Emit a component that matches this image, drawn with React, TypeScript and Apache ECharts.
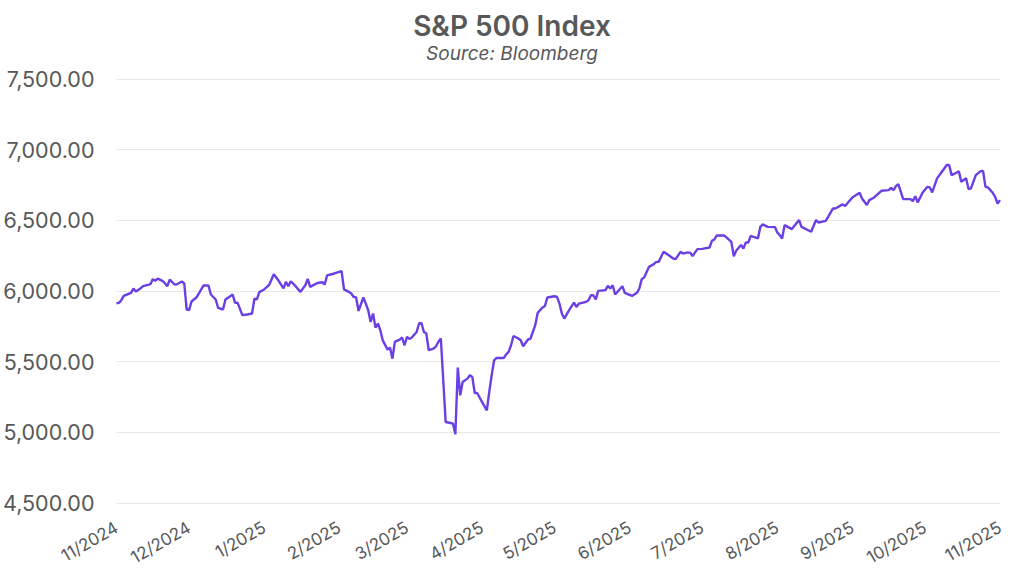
import React, { useEffect, useRef } from "react";
import * as echarts from "echarts";

const TITLE = "S&P 500 Index";
const SUBTITLE = "Source: Bloomberg";

const yTicks = [4500, 5000, 5500, 6000, 6500, 7000, 7500];

const dates = [
  "2024-11-01","2024-11-02","2024-11-03","2024-11-04","2024-11-06","2024-11-07","2024-11-08","2024-11-09","2024-11-11","2024-11-12",
  "2024-11-14","2024-11-15","2024-11-16","2024-11-17","2024-11-18","2024-11-20","2024-11-21","2024-11-22","2024-11-23","2024-11-25",
  "2024-11-26","2024-11-28","2024-11-29","2024-11-30","2024-12-01","2024-12-02","2024-12-04","2024-12-05","2024-12-07","2024-12-09",
  "2024-12-10","2024-12-12","2024-12-13","2024-12-15","2024-12-16","2024-12-18","2024-12-19","2024-12-20","2024-12-21","2024-12-23",
  "2024-12-25","2024-12-27","2024-12-28","2024-12-29","2024-12-30","2025-01-01","2025-01-03","2025-01-05","2025-01-07","2025-01-09",
  "2025-01-10","2025-01-11","2025-01-12","2025-01-14","2025-01-16","2025-01-18","2025-01-19","2025-01-20","2025-01-23","2025-01-25",
  "2025-01-26","2025-01-27","2025-01-30","2025-02-01","2025-02-02","2025-02-03","2025-02-05","2025-02-06","2025-02-07","2025-02-08",
  "2025-02-09","2025-02-11","2025-02-12","2025-02-13","2025-02-14","2025-02-15","2025-02-16","2025-02-17","2025-02-18","2025-02-19",
  "2025-02-21","2025-02-22","2025-02-23","2025-02-24","2025-02-26","2025-02-27","2025-02-28","2025-03-01","2025-03-02","2025-03-03",
  "2025-03-05","2025-03-06","2025-03-07","2025-03-08","2025-03-09","2025-03-10","2025-03-12","2025-03-13","2025-03-14","2025-03-15",
  "2025-03-17","2025-03-19","2025-03-20","2025-03-21","2025-03-22","2025-03-23","2025-03-24","2025-03-26","2025-03-27","2025-03-28",
  "2025-03-29","2025-03-30","2025-04-01","2025-04-03","2025-04-04","2025-04-05","2025-04-06","2025-04-07","2025-04-10","2025-04-11",
  "2025-04-12","2025-04-13","2025-04-14","2025-04-16","2025-04-17","2025-04-18","2025-04-20","2025-04-21","2025-04-23","2025-04-24",
  "2025-04-26","2025-04-27","2025-04-28","2025-05-01","2025-05-02","2025-05-03","2025-05-04","2025-05-05","2025-05-07","2025-05-09",
  "2025-05-10","2025-05-11","2025-05-14","2025-05-15","2025-05-16","2025-05-17","2025-05-18","2025-05-19","2025-05-22","2025-05-23",
  "2025-05-24","2025-05-25","2025-05-26","2025-05-29","2025-05-30","2025-06-02","2025-06-04","2025-06-05","2025-06-06","2025-06-07",
  "2025-06-09","2025-06-11","2025-06-12","2025-06-13","2025-06-15","2025-06-17","2025-06-19","2025-06-20","2025-06-22","2025-06-23",
  "2025-06-25","2025-06-26","2025-06-27","2025-06-29","2025-07-01","2025-07-04","2025-07-05","2025-07-06","2025-07-07","2025-07-10",
  "2025-07-11","2025-07-13","2025-07-14","2025-07-15","2025-07-17","2025-07-18","2025-07-19","2025-07-20","2025-07-21","2025-07-24",
  "2025-07-25","2025-07-26","2025-07-28","2025-07-31","2025-08-01","2025-08-02","2025-08-03","2025-08-04","2025-08-07","2025-08-10",
  "2025-08-11","2025-08-15","2025-08-17","2025-08-18","2025-08-21","2025-08-22","2025-08-24","2025-08-25","2025-08-28","2025-08-29",
  "2025-09-01","2025-09-04","2025-09-05","2025-09-07","2025-09-08","2025-09-10","2025-09-13","2025-09-16","2025-09-17","2025-09-18",
  "2025-09-19","2025-09-20","2025-09-22","2025-09-25","2025-09-26","2025-09-27","2025-09-28","2025-09-30","2025-10-02","2025-10-03",
  "2025-10-04","2025-10-06","2025-10-08","2025-10-10","2025-10-11","2025-10-12","2025-10-14","2025-10-15","2025-10-16","2025-10-18",
  "2025-10-19","2025-10-20","2025-10-22","2025-10-24","2025-10-25","2025-10-26","2025-10-27","2025-10-29","2025-10-30","2025-10-31",
  "2025-11-01"
];

const values = [
  5913,5916,5935,5965,5980,5987,6018,5996,6020,6034,
  6043,6048,6084,6072,6088,6072,6055,6034,6081,6046,
  6048,6067,6053,5869,5864,5926,5954,5982,6039,6039,
  5975,5940,5880,5869,5940,5963,5975,5916,5918,5829,
  5834,5841,5947,5940,5992,6011,6041,6119,6072,6018,
  6064,6034,6069,6034,5994,6041,6086,6029,6057,6062,
  6046,6110,6124,6135,6140,6011,5994,5982,5958,5954,
  5859,5954,5911,5864,5781,5841,5741,5770,5722,5651,
  5585,5600,5521,5640,5656,5671,5616,5675,5661,5671,
  5710,5770,5774,5710,5699,5581,5593,5609,5640,5664,
  5073,5066,5062,4986,5458,5262,5356,5380,5404,5392,
  5278,5278,5215,5156,5286,5404,5510,5526,5526,5552,
  5569,5616,5682,5664,5651,5609,5657,5661,5758,5845,
  5883,5894,5954,5963,5958,5911,5841,5805,5864,5918,
  5887,5911,5923,5935,5970,5970,5940,6001,6006,6036,
  6018,6041,5975,6034,5987,5965,5987,6018,6084,6096,
  6171,6190,6206,6206,6277,6254,6230,6225,6277,6265,
  6273,6270,6248,6296,6298,6308,6355,6365,6393,6393,
  6379,6348,6246,6284,6326,6301,6343,6343,6390,6372,
  6454,6471,6454,6452,6414,6395,6372,6466,6438,6502,
  6454,6419,6502,6485,6496,6525,6584,6584,6613,6601,
  6662,6695,6655,6608,6643,6662,6709,6714,6730,6714,
  6742,6756,6650,6650,6636,6671,6627,6695,6737,6733,
  6698,6797,6844,6891,6891,6820,6837,6848,6773,6797,
  6721,6726,6820,6848,6850,6737,6733,6695,6666,6619,
  6643
];

const X_MIN = "2024-11-01";
const X_MAX = "2025-11-01";

export default function App() {
  const ref = useRef<HTMLDivElement>(null);
  useEffect(() => {
    if (!ref.current) return;
    const chart = echarts.init(ref.current, null, { renderer: "svg" });
    const DAY = 86400000;
    chart.setOption({
      animation: false,
      backgroundColor: "#ffffff",
      title: [
        {
          text: TITLE,
          left: "center",
          top: 11,
          padding: 0,
          textStyle: { fontFamily: "Inter", fontSize: 28, lineHeight: 30, fontWeight: 600, color: "#585858" },
        },
        {
          text: SUBTITLE,
          left: "center",
          top: 43,
          padding: 0,
          textStyle: { fontFamily: "Inter", fontSize: 19, lineHeight: 20, fontWeight: "normal", fontStyle: "italic", color: "#585858" },
        },
      ],
      grid: { left: 115, right: 24, top: 79, bottom: 85, containLabel: false },
      xAxis: {
        type: "time",
        min: X_MIN,
        max: X_MAX,
        minInterval: 28 * DAY,
        maxInterval: 31 * DAY,
        axisLine: { show: false },
        axisTick: { show: false },
        splitLine: { show: false },
        axisLabel: {
          rotate: 30,
          margin: 23,
          fontFamily: "Inter",
          fontSize: 17,
          color: "#585858",
          showMinLabel: true,
          showMaxLabel: true,
          hideOverlap: false,
          formatter: (v: number) => {
            const d = new Date(v);
            return d.getMonth() + 1 + "/" + d.getFullYear();
          },
        },
      },
      yAxis: {
        type: "value",
        min: yTicks[0],
        max: yTicks[yTicks.length - 1],
        interval: 500,
        axisLine: { show: false },
        axisTick: { show: false },
        splitLine: { lineStyle: { color: "#e8e8e8", width: 1 } },
        axisLabel: {
          margin: 22,
          fontFamily: "Inter",
          fontSize: 21.5,
          color: "#585858",
          formatter: (v: number) =>
            v.toLocaleString("en-US", { minimumFractionDigits: 2, maximumFractionDigits: 2 }),
        },
      },
      series: [
        {
          type: "line",
          data: dates.map((d, i) => [d, values[i]]),
          showSymbol: false,
          symbol: "none",
          lineStyle: { color: "#6a3fe3", width: 2.4 },
        },
      ],
    });
    return () => chart.dispose();
  }, []);
  return (
    <div
      ref={ref}
      style={{ position: "fixed", left: 0, top: 0, width: 1024, height: 588 }}
    />
  );
}
